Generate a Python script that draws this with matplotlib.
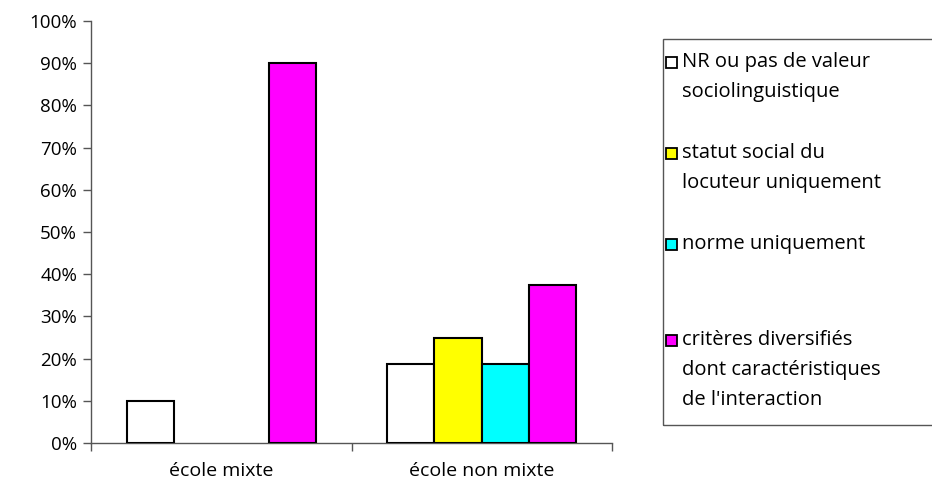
import matplotlib
matplotlib.use("Agg")
import matplotlib.pyplot as plt
from matplotlib.patches import Rectangle
import numpy as np

plt.rcParams['font.family'] = ['Open Sans', 'DejaVu Sans']

categories = ["école mixte", "école non mixte"]
series_names = ["NR ou pas de valeur\nsociolinguistique",
                "statut social du\nlocuteur uniquement",
                "norme uniquement",
                "critères diversifiés\ndont caractéristiques\nde l'interaction"]
nr = [10.0, 18.75]
statut = [0.0, 25.0]
norme = [0.0, 18.75]
criteres = [90.0, 37.5]
series_values = [nr, statut, norme, criteres]
colors = ["#FFFFFF", "#FFFF00", "#00FFFF", "#FF00FF"]
yticks = [0, 10, 20, 30, 40, 50, 60, 70, 80, 90, 100]
ytick_labels = [f"{t}%" for t in yticks]

W, H = 932, 493
fig = plt.figure(figsize=(W / 100, H / 100), dpi=100)
ax = fig.add_axes([91 / W, 1 - 443 / H, (612 - 91) / W, (443 - 21) / H])

n = len(series_values)
gap = 1.5
bw = 1.0 / (n + gap)
x = np.arange(len(categories))
for i, (vals, c) in enumerate(zip(series_values, colors)):
    offs = (-n / 2 + i + 0.5) * bw
    for xi, v in zip(x, vals):
        if v > 0:
            ax.bar(xi + offs, v, width=bw, color=c, edgecolor="black", linewidth=1.5, zorder=3)

ax.set_xlim(-0.5, len(categories) - 0.5)
ax.set_ylim(0, 100)
ax.set_yticks(yticks)
ax.set_yticklabels(ytick_labels, fontsize=13.5)
ax.set_xticks(x)
ax.set_xticklabels(categories, fontsize=14)
ax.tick_params(axis='x', length=0, pad=14)
ax.tick_params(axis='y', direction='out', length=6, width=1, color='#555555', pad=4)
ax.set_xticks([-0.5, 0.5, 1.5], minor=True)
ax.tick_params(axis='x', which='minor', direction='out', length=6, width=1, color='#555555')
for s in ['top', 'right']:
    ax.spines[s].set_visible(False)
for s in ['left', 'bottom']:
    ax.spines[s].set_color('#555555')
    ax.spines[s].set_linewidth(1)

# legend (Excel style, equal slots)
lx0, ly0, lx1, ly1 = 663, 39, 940, 425
fig.patches.append(Rectangle((lx0 / W, 1 - ly1 / H), (lx1 - lx0) / W, (ly1 - ly0) / H,
                             transform=fig.transFigure, fill=False, edgecolor='#555555', linewidth=1))
slot_tops = [62, 153, 244, 340]
line_h = 30
for name, c, yt in zip(series_names, colors, slot_tops):
    ms = 11
    fig.patches.append(Rectangle((666 / W, 1 - (yt + ms / 2) / H), ms / W, ms / H,
                                 transform=fig.transFigure, facecolor=c, edgecolor='black', linewidth=1.3))
    for k, line in enumerate(name.split("\n")):
        fig.text(682 / W, 1 - (yt + k * line_h) / H, line, fontsize=14.5, va='center', ha='left')

fig.savefig("out.png", dpi=100)
